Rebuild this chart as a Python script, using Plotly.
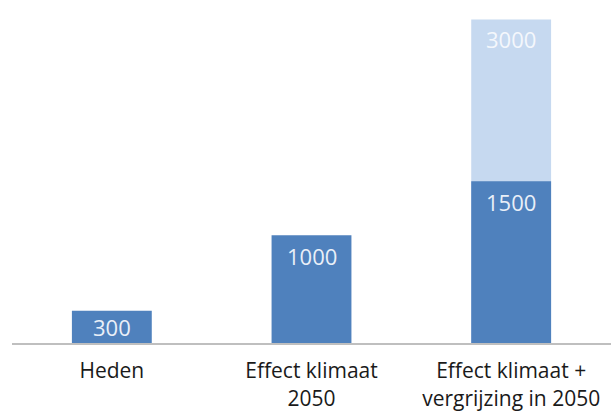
import plotly.graph_objects as go

# Data
categories = ["Heden", "Effect klimaat<br>2050", "Effect klimaat +<br>vergrijzing in 2050"]
base_values = [300, 1000, 1500]          # dark blue bars
total_values = [None, None, 3000]        # light blue bar (total incl. vergrijzing)

DARK = "#4f81bd"
LIGHT = "#c6d9f0"
Y_MAX = 3180
PLOT_H = 345

fig = go.Figure()

# Light bar behind the dark one (overlay)
fig.add_trace(go.Bar(
    x=categories, y=total_values, marker=dict(color=LIGHT, line=dict(width=0)),
    hoverinfo="skip",
))
fig.add_trace(go.Bar(
    x=categories, y=base_values, marker=dict(color=DARK, line=dict(width=0)),
    hoverinfo="skip",
))

# Value labels just inside the top of each bar
px_per_unit = PLOT_H / Y_MAX
font = dict(family="Open Sans", size=22)
for cat, v in zip(categories, base_values):
    shift = min(21, v * px_per_unit / 2)
    fig.add_annotation(x=cat, y=v, text=str(v), showarrow=False, yanchor="middle",
                       yshift=-shift, font=dict(font, color="#e9eff8"))
for cat, v in zip(categories, total_values):
    if v is None:
        continue
    fig.add_annotation(x=cat, y=v, text=str(v), showarrow=False, yanchor="middle",
                       yshift=-20, font=dict(font, color="#f4f7fc"))

fig.update_layout(
    width=611, height=412,
    margin=dict(l=12, r=0, t=0, b=67),
    barmode="overlay",
    bargap=0.6,
    showlegend=False,
    plot_bgcolor="white", paper_bgcolor="white",
    xaxis=dict(
        showline=True, linecolor="#bfbfbf", linewidth=2,
        ticks="outside", ticklen=8, tickcolor="rgba(0,0,0,0)",
        tickfont=dict(family="Open Sans", size=21, color="#1a1a1a"),
        showgrid=False, fixedrange=True,
    ),
    yaxis=dict(range=[0, Y_MAX], visible=False, showgrid=False, fixedrange=True),
)

fig.write_html("out.html", config={"displayModeBar": False})
